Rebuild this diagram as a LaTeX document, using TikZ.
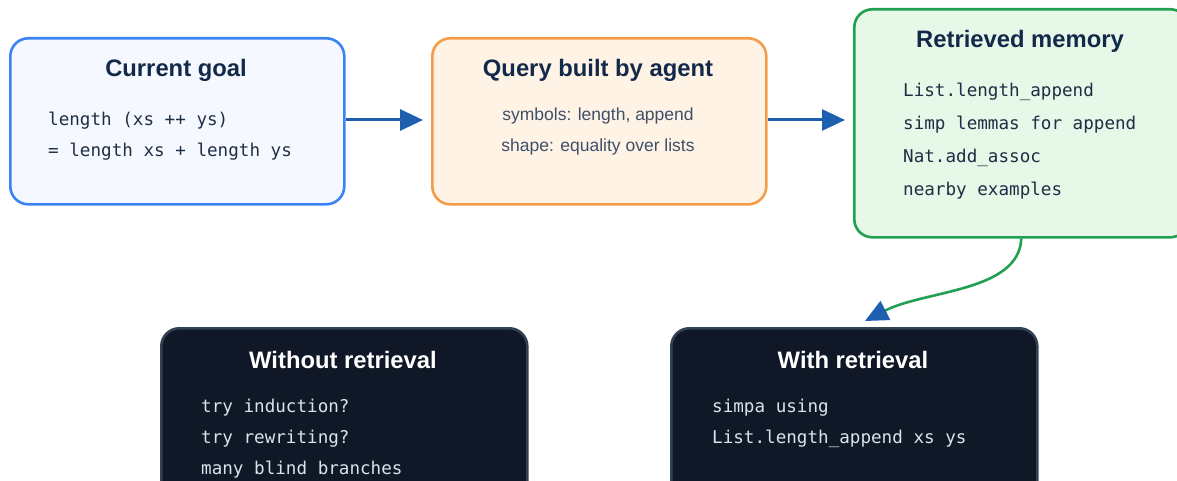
\documentclass[tikz,border=0pt]{standalone}
\usepackage{fontspec}
\setmainfont{Liberation Sans}
\setmonofont{DejaVu Sans Mono}
\usetikzlibrary{arrows.meta}

\definecolor{goalborder}{HTML}{3B82F6}
\definecolor{goalfill}{HTML}{F5F9FF}
\definecolor{queryborder}{HTML}{F49C4A}
\definecolor{queryfill}{HTML}{FFF3E6}
\definecolor{memborder}{HTML}{22A052}
\definecolor{memfill}{HTML}{E7F7E8}
\definecolor{darkfill}{HTML}{101828}
\definecolor{darkborder}{HTML}{334155}
\definecolor{titleink}{HTML}{13294A}
\definecolor{codeink}{HTML}{1E2E44}
\definecolor{bodyink}{HTML}{3E5068}
\definecolor{darkcode}{HTML}{D9E2EE}
\definecolor{flowblue}{HTML}{1F5FAF}

\tikzset{
  card/.style={draw, line width=2.6pt, rounded corners=18pt, minimum width=334pt, anchor=north west, inner sep=0pt},
  darkcard/.style={card, draw=darkborder, fill=darkfill, minimum width=366pt, minimum height=175pt},
  cardtitle/.style={font=\fontsize{23.8}{28}\selectfont\bfseries, text=titleink},
  darktitle/.style={cardtitle, text=white},
  codeline/.style={font=\ttfamily\fontsize{17.6}{20}\selectfont, text=codeink, anchor=base west, inner sep=0pt},
  darkcodeline/.style={codeline, text=darkcode},
  bodyline/.style={font=\fontsize{17.5}{20}\selectfont, text=bodyink, anchor=base, inner sep=0pt},
  tip/.style={-{Triangle[length=23pt,width=21pt]}},
  flow/.style={draw=flowblue, line width=3pt, tip, shorten >=8pt},
}

\begin{document}
\begin{tikzpicture}[x=1pt,y=-1pt]
\useasboundingbox (0,0) rectangle (1177,481);

% current goal
\node[card, draw=goalborder, fill=goalfill, minimum height=166pt] (goal) at (9,37) {};
\node[cardtitle] (goalT) at (176,70) {Current goal};
\node[codeline] (g1) at (48,126) {length (xs ++ ys)};
\node[codeline] (g2) at (48,157) {= length xs + length ys};

% query
\node[card, draw=queryborder, fill=queryfill, minimum height=166pt] (query) at (431,37) {};
\node[cardtitle] (queryT) at (598,70) {Query built by agent};
\node[bodyline] (q1) at (598,121) {symbols: length, append};
\node[bodyline] (q2) at (598,152) {shape: equality over lists};

% retrieved memory
\node[card, draw=memborder, fill=memfill, minimum height=228pt] (mem) at (853,8) {};
\node[cardtitle] (memT) at (1020,41) {Retrieved memory};
\node[codeline] (m1) at (903,97) {List.length\_append};
\node[codeline] (m2) at (903,130) {simp lemmas for append};
\node[codeline] (m3) at (903,163) {Nat.add\_assoc};
\node[codeline] (m4) at (903,196) {nearby examples};

% without retrieval
\node[darkcard] (without) at (160,327) {};
\node[darktitle] (withoutT) at (343,360) {Without retrieval};
\node[darkcodeline] (w1) at (201,412) {try induction?};
\node[darkcodeline] (w2) at (201,443) {try rewriting?};
\node[darkcodeline] (w3) at (201,474) {many blind branches};

% with retrieval
\node[darkcard] (with) at (670,327) {};
\node[darktitle] (withT) at (853,360) {With retrieval};
\node[darkcodeline] (r1) at (712,412) {simpa using};
\node[darkcodeline] (r2) at (712,443) {List.length\_append xs ys};

% connectors
\draw[flow] (goal.east |- 0,120) -- (query.west |- 0,120);
\draw[flow] (query.east |- 0,120) -- (mem.west |- 0,120);
\coordinate (landing) at (865,321);
\draw[draw=memborder, line width=2.6pt, -{Triangle[length=23pt,width=21pt,fill=flowblue,color=flowblue]}]
  (mem.south) .. controls (1019,292) and (925,290) .. (landing);
\end{tikzpicture}
\end{document}
